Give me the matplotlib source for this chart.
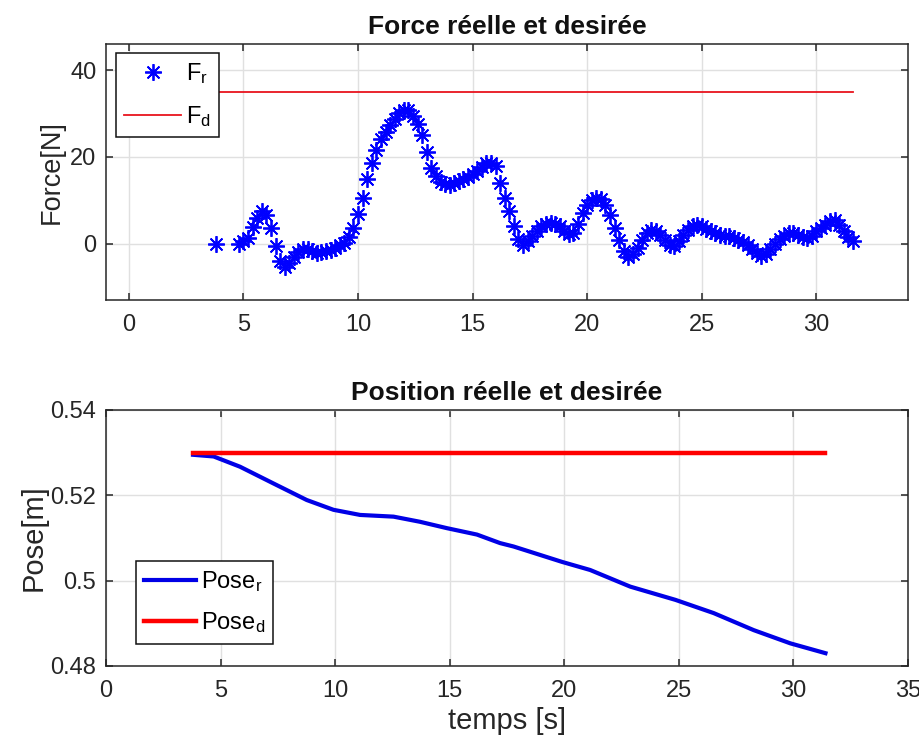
import matplotlib
matplotlib.use("Agg")
import matplotlib.pyplot as plt
import numpy as np
from matplotlib.ticker import FuncFormatter

# --- data ---
# force samples: one isolated point at 3.8 s, then every 0.2 s from 4.8 s
force_first_t = 3.8
force_first_val = 0.0
force_start = 4.8
force_step = 0.2
force_vals = [
    0.0,
    0.5, 1.4, 3.8, 6.0, 7.5,
    6.5, 3.5, -0.5, -4.0, -5.5,
    -4.5, -3.2, -2.0, -1.2, -1.3,
    -1.8, -2.2, -2.0, -1.7, -1.4,
    -1.0, -0.4, 0.2, 1.5, 3.7,
    6.8, 10.5, 15.0, 18.5, 21.5,
    24.0, 25.8, 27.3, 28.8, 30.0,
    30.8, 30.7, 29.5, 27.6, 25.0,
    21.0, 17.5, 15.5, 14.3, 13.7,
    13.6, 14.0, 14.5, 14.9, 15.3,
    16.0, 16.8, 17.6, 18.5, 18.6,
    17.8, 14.0, 10.5, 7.5, 4.0,
    1.0, -0.3, 0.5, 1.8, 3.0,
    4.0, 4.6, 4.8, 4.5, 4.0,
    3.0, 2.2, 2.5, 4.5, 7.0,
    8.8, 10.0, 10.6, 10.2, 9.0,
    6.5, 3.5, 0.8, -1.8, -3.2,
    -2.5, -1.0, 0.8, 2.4, 3.2,
    2.8, 1.9, 0.8, -0.3, -0.5,
    0.5, 2.0, 3.2, 4.0, 4.4,
    4.0, 3.3, 2.8, 2.4, 2.0,
    1.8, 1.7, 1.3, 0.9, 0.4,
    -0.3, -1.2, -2.2, -2.9, -2.5,
    -1.2, 0.0, 1.0, 1.8, 2.4,
    2.5, 2.0, 1.5, 1.3, 1.8,
    2.8, 3.6, 4.4, 5.3, 5.4,
    4.3, 3.0, 1.6, 0.6,
]
force_des = 35.0
force_des_t = [3.8, 31.6]

pose_t = [3.8, 4.7, 5.85, 7.3, 8.76, 9.93, 11.09, 12.55, 13.7, 14.88, 16.19,
          17.2, 17.79, 19.9, 21.13, 22.88, 24.85, 26.52, 28.27, 29.87, 31.4]
pose_vals = [0.5295, 0.5291, 0.5267, 0.5228, 0.5189, 0.5166, 0.5154, 0.5150,
             0.5138, 0.5123, 0.5108, 0.5088, 0.5080, 0.5044, 0.5025, 0.4986,
             0.4955, 0.4924, 0.4884, 0.4853, 0.4830]
pose_des = 0.53
pose_des_t = [3.8, 31.4]

force_t = np.concatenate([[force_first_t],
                          force_start + force_step * np.arange(len(force_vals))])
force_y = np.concatenate([[force_first_val], force_vals])

plt.rcParams['font.family'] = ['Liberation Sans', 'DejaVu Sans']
plt.rcParams['mathtext.default'] = 'regular'
txt = '#262626'

fig = plt.figure(figsize=(9.2, 7.51), dpi=100)
ax1 = fig.add_axes([0.1152, 0.6005, 0.8717, 0.3409])
ax2 = fig.add_axes([0.1152, 0.1132, 0.8717, 0.3409])

# MATLAB style asterisk marker (8 spokes)
ax1.plot(force_t, force_y, linestyle='none', marker=(8, 2, 0), color='#0000ff',
         markersize=12, markeredgewidth=1.3, label='F$_r$')
ax1.plot(force_des_t, [force_des, force_des], color='#e8141e', linewidth=1.3,
         label='F$_d$')
ax1.set_xlim(-1, 34)
ax1.set_ylim(-13, 46)
ax1.set_xticks(range(0, 31, 5))
ax1.set_yticks([0, 20, 40])
ax1.set_ylabel('Force[N]', fontsize=19.5, color=txt, labelpad=4)
ax1.set_title('Force réelle et desirée', fontsize=19, fontweight='bold',
              color='#111111', pad=7)

ax2.plot(pose_t, pose_vals, color='#0000e6', linewidth=3, label='Pose$_r$')
ax2.plot(pose_des_t, [pose_des, pose_des], color='#ff0000', linewidth=3.2,
         label='Pose$_d$')
ax2.set_xlim(0, 35)
ax2.set_ylim(0.48, 0.54)
ax2.set_xticks(range(0, 36, 5))
ax2.set_yticks([0.48, 0.5, 0.52, 0.54])
ax2.yaxis.set_major_formatter(FuncFormatter(lambda v, p: '%g' % round(v, 4)))
ax2.set_ylabel('Pose[m]', fontsize=21, color=txt, labelpad=2)
ax2.set_xlabel('temps [s]', fontsize=21, color=txt, labelpad=4)
ax2.set_title('Position réelle et desirée', fontsize=19, fontweight='bold',
              color='#111111', pad=7)

for ax in (ax1, ax2):
    ax.grid(True, color='#e0e0e0', linewidth=1)
    ax.set_axisbelow(True)
    ax.tick_params(direction='in', top=True, right=True, length=5, width=1.1,
                   colors=txt, labelsize=17)
    ax.tick_params(axis='x', pad=10)
    ax.tick_params(axis='y', pad=7)
    for s in ax.spines.values():
        s.set_color(txt)
        s.set_linewidth(1.1)

leg1 = ax1.legend(loc='upper left', bbox_to_anchor=(0.1261, 0.9294),
                  bbox_transform=fig.transFigure, borderaxespad=0,
                  fontsize=17, handlelength=2.4, handletextpad=0.2,
                  labelspacing=0.75, borderpad=0.35, fancybox=False,
                  framealpha=1, edgecolor='#111111')
leg1.get_frame().set_linewidth(1.1)

leg2 = ax2.legend(loc='upper left', bbox_to_anchor=(0.1475, 0.2534),
                  bbox_transform=fig.transFigure, borderaxespad=0,
                  fontsize=17, handlelength=2.2, handletextpad=0.2,
                  labelspacing=0.7, borderpad=0.35, fancybox=False,
                  framealpha=1, edgecolor='#111111')
leg2.get_frame().set_linewidth(1.1)

fig.savefig('out.png', dpi=100, facecolor='white')
